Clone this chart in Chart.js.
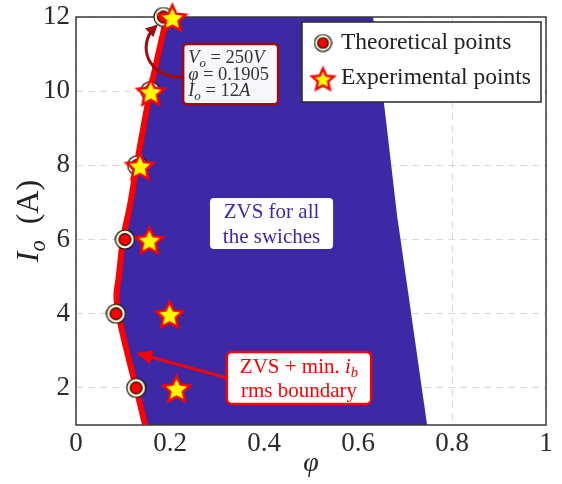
<!DOCTYPE html>
<html>
<head>
<meta charset="utf-8">
<script src="https://cdn.jsdelivr.net/npm/chart.js@4.4.0/dist/chart.umd.min.js"></script>
<style>
  html, body { margin: 0; padding: 0; background: #fff; }
</style>
</head>
<body>
<canvas id="grafico" width="562" height="484"></canvas>
<script>
// ZVS region vs. phase shift (phi) and output current (Io)

// theoretical points
const phiTeorico = [0.128, 0.085, 0.104, 0.130, 0.158, 0.186];
const ioTeorico = [2, 4, 6, 8, 10, 12];

// experimental points
const phiExperimental = [0.214, 0.199, 0.156, 0.136, 0.159, 0.205];
const ioExperimental = [2, 4, 6, 8, 10, 12];

// ZVS + min ib rms boundary (red curve)
const phiFronteira = [0.147, 0.128, 0.108, 0.090, 0.086, 0.091, 0.100, 0.116, 0.129, 0.143, 0.158, 0.175, 0.193];
const ioFronteira = [1, 2, 3, 4, 4.5, 5, 6, 7, 8, 9, 10, 11, 12];

// right edge of the ZVS region (top to bottom)
const phiBordaDir = [0.632, 0.655, 0.683, 0.709, 0.747];
const ioBordaDir = [12, 9.71, 6.66, 4.37, 1];

// axis ticks
const xTicks = [0, 0.2, 0.4, 0.6, 0.8, 1];
const xTickLabels = ['0', '0.2', '0.4', '0.6', '0.8', '1'];
const yTicks = [2, 4, 6, 8, 10, 12];
const yTickLabels = ['2', '4', '6', '8', '10', '12'];

const pares = (xs, ys) => xs.map((x, i) => ({ x, y: ys[i] }));
const zona = pares(phiFronteira, ioFronteira).concat(pares(phiBordaDir, ioBordaDir));

const SERIF = "'Liberation Serif', 'DejaVu Serif', serif";
const fonte = (size, it) => (it ? 'italic ' : '') + size + 'px ' + SERIF;

const AZUL = '#3d29a5';
const VERMELHO = '#ff0000';
const VINHO = '#9e0b0f';

// markers
function marcadorCirculo(r) {
  const c = document.createElement('canvas');
  c.width = c.height = Math.ceil(2 * r + 2);
  const g = c.getContext('2d');
  const m = c.width / 2;
  g.beginPath(); g.arc(m, m, r, 0, Math.PI * 2);
  g.fillStyle = '#fdf6d2'; g.fill();
  g.lineWidth = 1.2; g.strokeStyle = '#111'; g.stroke();
  g.beginPath(); g.arc(m, m, r * 0.62, 0, Math.PI * 2);
  g.fillStyle = '#ff0000'; g.fill();
  g.lineWidth = 1.2; g.strokeStyle = '#111'; g.stroke();
  return c;
}

function marcadorEstrela(R) {
  const c = document.createElement('canvas');
  c.width = c.height = Math.ceil(2 * R + 6);
  const g = c.getContext('2d');
  const m = c.width / 2;
  const r = R * 0.47;
  g.beginPath();
  for (let k = 0; k < 10; k++) {
    const a = -Math.PI / 2 + k * Math.PI / 5;
    const rr = k % 2 === 0 ? R : r;
    const px = m + rr * Math.cos(a), py = m + 2 + rr * Math.sin(a);
    if (k === 0) g.moveTo(px, py); else g.lineTo(px, py);
  }
  g.closePath();
  g.fillStyle = '#ffff00'; g.fill();
  g.lineJoin = 'miter';
  g.lineWidth = 2.5; g.strokeStyle = VERMELHO; g.stroke();
  return c;
}

const circulo = marcadorCirculo(9.5);
const estrela = marcadorEstrela(14);
const circuloLeg = marcadorCirculo(8.5);
const estrelaLeg = marcadorEstrela(11.5);

// text with italic / subscript pieces: [text, flags]
function larguraRuns(ctx, runs, size) {
  let w = 0;
  runs.forEach(([t, f]) => {
    ctx.font = fonte(f.includes('s') ? size * 0.7 : size, f.includes('i'));
    w += ctx.measureText(t).width;
  });
  return w;
}
function desenhaRuns(ctx, runs, x, y, size, centro) {
  if (centro) x -= larguraRuns(ctx, runs, size) / 2;
  ctx.textBaseline = 'middle';
  ctx.textAlign = 'left';
  runs.forEach(([t, f]) => {
    const sub = f.includes('s');
    ctx.font = fonte(sub ? size * 0.7 : size, f.includes('i'));
    ctx.fillText(t, x, sub ? y + size * 0.28 : y);
    x += ctx.measureText(t).width;
  });
}

function caixa(ctx, x0, y0, x1, y1, r) {
  ctx.beginPath();
  ctx.moveTo(x0 + r, y0);
  ctx.arcTo(x1, y0, x1, y1, r);
  ctx.arcTo(x1, y1, x0, y1, r);
  ctx.arcTo(x0, y1, x0, y0, r);
  ctx.arcTo(x0, y0, x1, y0, r);
  ctx.closePath();
}

function pontaSeta(ctx, x, y, dx, dy, len, wid) {
  const n = Math.hypot(dx, dy); dx /= n; dy /= n;
  ctx.beginPath();
  ctx.moveTo(x, y);
  ctx.lineTo(x - dx * len - dy * wid, y - dy * len + dx * wid);
  ctx.lineTo(x - dx * len + dy * wid, y - dy * len - dx * wid);
  ctx.closePath();
  ctx.fill();
}

// frame around the plot, drawn right after the blue region
const moldura = {
  id: 'moldura',
  afterDatasetDraw(chart, args) {
    if (args.index !== 3) return;
    const { ctx, chartArea: a } = chart;
    ctx.save();
    ctx.strokeStyle = '#3a3a3a';
    ctx.lineWidth = 1.5;
    ctx.strokeRect(a.left, a.top, a.right - a.left, a.bottom - a.top);
    ctx.restore();
  }
};

const anotacoes = {
  id: 'anotacoes',
  afterDraw(chart) {
    const { ctx, chartArea: a, scales } = chart;
    const X = v => scales.x.getPixelForValue(v);
    const Y = v => scales.y.getPixelForValue(v);
    ctx.save();

    // axis titles
    ctx.fillStyle = '#222';
    desenhaRuns(ctx, [['φ', 'i']], (a.left + a.right) / 2, 464, 28, true);
    ctx.save();
    ctx.translate(30, (a.top + a.bottom) / 2);
    ctx.rotate(-Math.PI / 2);
    desenhaRuns(ctx, [['I', 'i'], ['o', 'is'], ['  (A)', '']], 0, 0, 32, true);
    ctx.restore();

    // Vo / phi / Io box with curved arrow
    ctx.strokeStyle = VINHO; ctx.fillStyle = VINHO;
    ctx.lineWidth = 3;
    const sx = X(0.228), sy = Y(10.38);
    const ex = X(0.174), ey = Y(11.80);
    const c2x = X(0.130), c2y = Y(11.25);
    ctx.beginPath();
    ctx.moveTo(sx, sy);
    ctx.bezierCurveTo(X(0.150), Y(10.36), c2x, c2y, ex - 3, ey + 3);
    ctx.stroke();
    pontaSeta(ctx, ex, ey, ex - c2x, ey - c2y, 12, 6);

    caixa(ctx, X(0.228), Y(11.27), X(0.430), Y(9.65), 4);
    ctx.fillStyle = '#f8f7fc'; ctx.fill();
    ctx.lineWidth = 2.5; ctx.stroke();
    ctx.fillStyle = '#333';
    const tx = X(0.228) + 5;
    desenhaRuns(ctx, [['V', 'i'], ['o', 'is'], [' = 250', ''], ['V', 'i']], tx, Y(11.27) + 14, 18.5, false);
    desenhaRuns(ctx, [['φ', 'i'], [' = 0.1905', '']], tx, Y(11.27) + 31, 18.5, false);
    desenhaRuns(ctx, [['I', 'i'], ['o', 'is'], [' = 12', ''], ['A', 'i']], tx, Y(11.27) + 47, 18.5, false);

    // ZVS for all the swiches
    caixa(ctx, X(0.285), Y(7.12), X(0.547), Y(5.745), 4);
    ctx.fillStyle = '#ffffff'; ctx.fill();
    ctx.fillStyle = AZUL;
    const cx1 = (X(0.285) + X(0.547)) / 2;
    desenhaRuns(ctx, [['ZVS for all', '']], cx1, Y(7.12) + 14, 21, true);
    desenhaRuns(ctx, [['the swiches', '']], cx1, Y(7.12) + 39, 21, true);

    // red arrow + boundary label
    ctx.strokeStyle = VERMELHO; ctx.fillStyle = VERMELHO;
    ctx.lineWidth = 3;
    const ax0 = X(0.321), ay0 = Y(2.27), ax1 = X(0.128), ay1 = Y(2.94);
    ctx.beginPath();
    ctx.moveTo(ax0, ay0);
    ctx.lineTo(ax1 + (ax0 - ax1) * 0.08, ay1 + (ay0 - ay1) * 0.08);
    ctx.stroke();
    pontaSeta(ctx, ax1, ay1, ax1 - ax0, ay1 - ay0, 16, 7);

    caixa(ctx, X(0.321), Y(2.968), X(0.628), Y(1.566), 5);
    ctx.fillStyle = '#ffffff'; ctx.fill();
    ctx.lineWidth = 2.5; ctx.stroke();
    ctx.fillStyle = VERMELHO;
    const cx2 = (X(0.321) + X(0.628)) / 2;
    desenhaRuns(ctx, [['ZVS + min. ', ''], ['i', 'i'], ['b', 'is']], cx2, Y(2.968) + 15, 21, true);
    desenhaRuns(ctx, [['rms boundary', '']], cx2, Y(2.968) + 39, 21, true);

    // legend
    const lx0 = a.right - 244, ly0 = a.top + 5, lx1 = a.right - 5, ly1 = a.top + 85;
    ctx.fillStyle = '#ffffff';
    ctx.fillRect(lx0, ly0, lx1 - lx0, ly1 - ly0);
    ctx.strokeStyle = '#2a2a2a'; ctx.lineWidth = 1.5;
    ctx.strokeRect(lx0, ly0, lx1 - lx0, ly1 - ly0);
    ctx.drawImage(circuloLeg, lx0 + 21 - circuloLeg.width / 2, ly0 + 21 - circuloLeg.height / 2);
    ctx.drawImage(estrelaLeg, lx0 + 21 - estrelaLeg.width / 2, ly0 + 56 - estrelaLeg.height / 2);
    ctx.fillStyle = '#222';
    desenhaRuns(ctx, [['Theoretical points', '']], lx0 + 39, ly0 + 21, 23.5, false);
    desenhaRuns(ctx, [['Experimental points', '']], lx0 + 39, ly0 + 56, 23.5, false);

    ctx.restore();
  }
};

const ctx = document.getElementById('grafico').getContext('2d');
const chart = new Chart(ctx, {
  type: 'scatter',
  data: {
    datasets: [
      {
        label: 'Experimental points',
        data: pares(phiExperimental, ioExperimental),
        pointStyle: estrela,
        pointRadius: 14,
        clip: false,
        order: 0
      },
      {
        label: 'Theoretical points',
        data: pares(phiTeorico, ioTeorico),
        pointStyle: circulo,
        pointRadius: 10,
        clip: false,
        order: 1
      },
      {
        label: 'fronteira',
        data: pares(phiFronteira, ioFronteira),
        showLine: true,
        borderColor: VERMELHO,
        borderWidth: 6,
        tension: 0.3,
        pointRadius: 0,
        order: 2
      },
      {
        label: 'zona ZVS',
        data: zona,
        showLine: true,
        fill: 'shape',
        backgroundColor: AZUL,
        borderColor: AZUL,
        borderWidth: 0,
        tension: 0,
        pointRadius: 0,
        order: 3
      }
    ]
  },
  options: {
    responsive: false,
    devicePixelRatio: 1,
    animation: false,
    events: [],
    layout: { padding: { left: 0, right: 16, top: 17, bottom: 0 } },
    plugins: {
      legend: { display: false },
      tooltip: { enabled: false }
    },
    scales: {
      x: {
        type: 'linear',
        min: 0,
        max: 1,
        afterBuildTicks: s => { s.ticks = xTicks.map(v => ({ value: v })); },
        afterFit: s => { s.height = 59; s.paddingLeft = 0; s.paddingRight = 0; },
        ticks: {
          callback: (v) => xTickLabels[xTicks.indexOf(v)] ?? '',
          color: '#2b2b2b',
          font: { family: SERIF, size: 27 },
          padding: 3,
          maxRotation: 0
        },
        grid: { color: '#d8d8d8', lineWidth: 1, drawTicks: false },
        border: { display: false, dash: [7, 5] }
      },
      y: {
        type: 'linear',
        min: 1,
        max: 12,
        afterBuildTicks: s => { s.ticks = yTicks.map(v => ({ value: v })); },
        afterFit: s => { s.width = 76; s.paddingTop = 0; s.paddingBottom = 0; },
        ticks: {
          callback: (v) => yTickLabels[yTicks.indexOf(v)] ?? '',
          color: '#2b2b2b',
          font: { family: SERIF, size: 27 },
          padding: 6
        },
        grid: { color: '#d8d8d8', lineWidth: 1, drawTicks: false },
        border: { display: false, dash: [7, 5] }
      }
    }
  },
  plugins: [moldura, anotacoes]
});
</script>
</body>
</html>
